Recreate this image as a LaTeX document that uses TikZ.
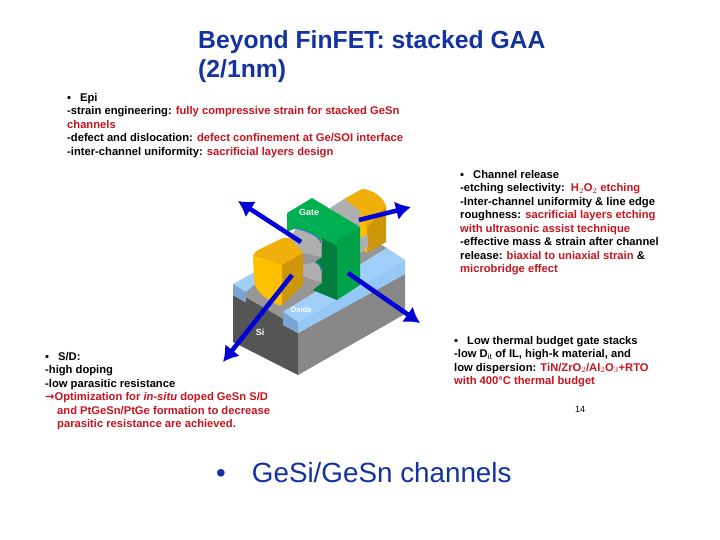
\documentclass[tikz,border=0pt]{standalone}
\usepackage{fontspec}
\setmainfont{Liberation Sans}
\newfontfamily\symfont{DejaVu Sans}
\usetikzlibrary{arrows.meta}
\definecolor{rd}{RGB}{200,20,30}
\definecolor{titleblue}{RGB}{20,50,160}
\definecolor{gatetop}{RGB}{0,176,80}
\definecolor{gatedark}{RGB}{0,125,60}
\definecolor{arrowblue}{RGB}{0,0,215}
\definecolor{oxtop}{RGB}{160,208,250}
\definecolor{oxside}{RGB}{150,200,245}
\definecolor{oxfront}{RGB}{120,165,210}
\definecolor{oxline}{RGB}{40,120,190}
\definecolor{sidark}{RGB}{85,85,85}
\definecolor{silight}{RGB}{135,135,135}
\definecolor{sifloor}{RGB}{150,150,150}
\definecolor{chan}{RGB}{175,175,175}
\definecolor{gold}{RGB}{255,192,0}
\definecolor{goldmid}{RGB}{240,175,10}
\definecolor{golddark}{RGB}{205,150,10}
\tikzset{
 body/.style={anchor=north west,align=left,inner sep=0pt,font=\bfseries\fontsize{11.2}{13.45}\selectfont,text=black},
 bigarrow/.style={draw=arrowblue,line width=4.6pt,-{Latex[length=15pt,width=19pt]}},
}
\newcommand{\rt}[1]{\textcolor{rd}{#1}}
\begin{document}
\begin{tikzpicture}[x=1pt,y=-1pt]
\useasboundingbox (0,0) rectangle (720,540);
\fill[white] (0,0) rectangle (720,540);
 % silicon body
 \fill[sifloor] (245,292) -- (245,299) -- (283,321) -- (283,312) -- (387,248) -- (345,225) -- (253,273) -- cycle;
 \fill[sidark] (233,295) -- (245,302) -- (245,297) -- (283,319) -- (283,325) -- (298,333) -- (298,375) -- (233,342) -- cycle;
 \fill[silight] (298,333) -- (298,375) -- (405,314) -- (405,274) -- cycle;
 % oxide
 \fill[oxtop] (233,284) -- (253,273) -- (262,278) -- (246,292) -- cycle;
 \fill[oxfront] (233,284) -- (246,292) -- (246,302) -- (233,295) -- cycle;
 \fill[oxtop] (283,312) -- (298,322) -- (405,260) -- (387,248) -- cycle;
 \fill[oxfront] (283,312) -- (298,322) -- (298,333) -- (283,325) -- cycle;
 \fill[oxside] (298,322) -- (298,333) -- (405,274) -- (405,260) -- cycle;
 % rear S/D
 \fill[gold] (360,218) -- (367,225) -- (367,253) -- (358,246) -- cycle;
 \fill[golddark] (367,226) -- (386,205) -- (386,242) -- (367,253) -- cycle;
 \fill[goldmid] (344,199) -- (362,189) .. controls (372,189) and (385,198) .. (386,207) -- (367,227) -- (360,218) -- cycle;
 \fill[chan] (330,208) -- (344,199) -- (360,211) -- (360,232) -- (345,225) -- cycle;
 \fill[chan] (360,238) -- (368,235) -- (368,247) -- (360,253) -- cycle;
 % gate
 \fill[gatetop] (287,213) -- (312,198) -- (360,227) -- (337,240) -- cycle;
 \fill[gatetop] (287,213) -- (337,240) -- (337,300) -- (313,290) -- (322,283) -- (322,240) -- (296,228) -- (287,232) -- cycle;
 \fill[gatedark] (322,238) -- (337,246) -- (337,300) -- (313,290) -- (322,283) -- (322,268) -- (315,262) -- (322,257) -- cycle;
 \fill[gatetop!92!black] (337,240) -- (360,227) -- (360,285) -- (337,300) -- cycle;
 % channels
 \fill[chan] (290,238) -- (296,228) .. controls (306,230) and (320,236) .. (321,243) -- (321,257) -- (303,253) -- cycle;
 \fill[chan] (303,265) -- (315,262) .. controls (319,264) and (321,266) .. (321,270) -- (321,282) -- (307,278) -- (303,276) -- cycle;
 \draw[oxline,line width=1.2pt] (295,228) .. controls (306,230) and (320,236) .. (321,243);
 \draw[oxline,line width=1.2pt] (315,262) .. controls (319,264) and (321,266) .. (321,270);
 % front S/D
 \fill[golddark] (282,265) -- (303,253) -- (303,285) -- (282,305) -- cycle;
 \fill[goldmid] (253,256) .. controls (254,252) and (258,250) .. (262,248) -- (283,238) -- (290,238) -- (303,253) -- (282,265) -- cycle;
 \fill[gold] (253,256) -- (282,265) -- (282,305) -- (278,305) .. controls (265,298) and (255,292) .. (254,280) -- cycle;
 % arrows
 \coordinate (a1s) at (301,242); \coordinate (a1e) at (238,201);
 \coordinate (a2s) at (359,220); \coordinate (a2e) at (411,207);
 \coordinate (a3s) at (348,273); \coordinate (a3e) at (420,323);
 \coordinate (a4s) at (292,275); \coordinate (a4e) at (223,362);
 \draw[bigarrow] (a1s) -- (a1e);
 \draw[bigarrow] (a2s) -- (a2e);
 \draw[bigarrow] (a3s) -- (a3e);
 \draw[bigarrow] (a4s) -- (a4e);
 \node[text=white,font=\bfseries\fontsize{9}{10}\selectfont,inner sep=0pt] (gate) at (309,212) {Gate};
 \node[text=white,font=\bfseries\fontsize{7.5}{8}\selectfont,inner sep=0pt] (oxide) at (301,310) {Oxide};
 \node[text=white,font=\bfseries\fontsize{9}{10}\selectfont,inner sep=0pt] (si) at (260,332) {Si};
\node[anchor=north west,align=left,inner sep=0pt,font=\bfseries\fontsize{24.7}{29.5}\selectfont,text=titleblue] (title) at (198,30) {Beyond FinFET: stacked GAA\\(2/1nm)};
\node[body] (epi) at (67,93) {▪\hspace{9pt}Epi\\-strain engineering: \rt{fully compressive strain for stacked GeSn}\\\rt{channels}\\-defect and dislocation: \rt{defect confinement at Ge/SOI interface}\\-inter-channel uniformity: \rt{sacrificial layers design}};
\node[body] (rel) at (460,170) {▪\hspace{9pt}Channel release\\-etching selectivity:\ \ \rt{H$_2$O$_2$ etching}\\-Inter-channel uniformity \& line edge\\roughness: \rt{sacrificial layers etching}\\\rt{with ultrasonic assist technique}\\-effective mass \& strain after channel\\release: \rt{biaxial to uniaxial strain} \&\\\rt{microbridge effect}};
\node[body] (sd) at (45,352) {▪\hspace{9pt}S/D:\\-high doping\\-low parasitic resistance\\\rt{{\symfont →}Optimization for \textit{in-situ} doped GeSn S/D}\\\rt{\hspace*{12pt}and PtGeSn/PtGe formation to decrease}\\\rt{\hspace*{12pt}parasitic resistance are achieved.}};
\node[body] (gs) at (454,336) {▪\hspace{9pt}Low thermal budget gate stacks\\-low D$_{\mathrm{it}}$ of IL, high-k material, and\\low dispersion: \rt{TiN/ZrO$_2$/Al$_2$O$_3$+RTO}\\\rt{with 400°C thermal budget}};
\node[font=\fontsize{9}{11}\selectfont] (pg) at (580,409) {14};
\node[anchor=west,inner sep=0pt,font=\fontsize{27.8}{32}\selectfont,text=titleblue] (bul) at (216,473) {•\hspace{26pt}GeSi/GeSn channels};
\end{tikzpicture}
\end{document}
